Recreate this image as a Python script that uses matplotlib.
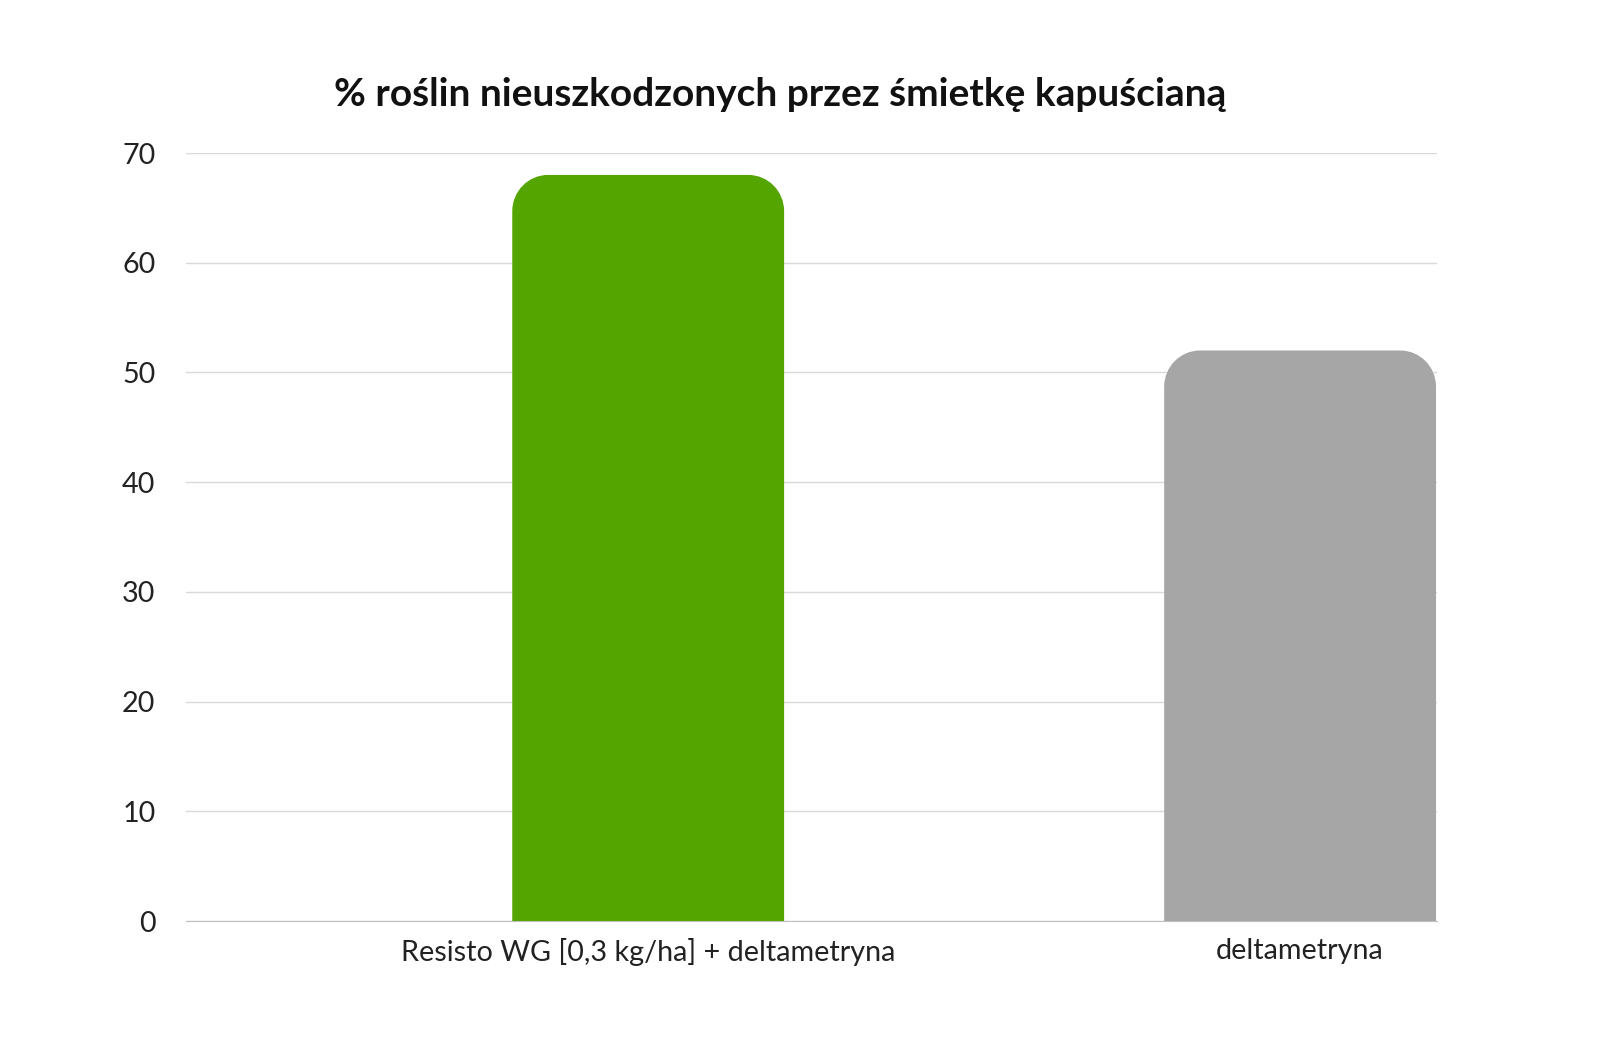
import matplotlib
matplotlib.use("Agg")
import matplotlib.pyplot as plt
from matplotlib.path import Path
from matplotlib.patches import PathPatch

categories = ["Resisto WG [0,3 kg/ha] + deltametryna", "deltametryna"]
values = [68, 52]
colors = ["#55a500", "#a6a6a6"]
yticks = [0, 10, 20, 30, 40, 50, 60, 70]
title = "% roślin nieuszkodzonych przez śmietkę kapuścianą"

plt.rcParams['font.family'] = ['Lato', 'DejaVu Sans']
fig = plt.figure(figsize=(16, 10.6), dpi=100)
ax = fig.add_axes([186/1600, 1-921/1060, (1437-186)/1600, (921-153)/1060])

xs = list(range(len(categories)))
bars = ax.bar(xs, values, width=0.417, color=colors)
ax.set_xlim(-0.709, 1.21)
ax.set_ylim(0, 70)

rx, ry = 0.055, 3.3
k = 0.5523
for b, c in zip(bars, colors):
    x0, w, h = b.get_x(), b.get_width(), b.get_height()
    b.set_visible(False)
    x1 = x0 + w
    verts = [(x0, 0), (x0, h - ry),
             (x0, h - ry + k*ry), (x0 + rx - k*rx, h), (x0 + rx, h),
             (x1 - rx, h),
             (x1 - rx + k*rx, h), (x1, h - ry + k*ry), (x1, h - ry),
             (x1, 0), (x0, 0)]
    codes = [Path.MOVETO, Path.LINETO,
             Path.CURVE4, Path.CURVE4, Path.CURVE4,
             Path.LINETO,
             Path.CURVE4, Path.CURVE4, Path.CURVE4,
             Path.LINETO, Path.CLOSEPOLY]
    ax.add_patch(PathPatch(Path(verts, codes), facecolor=c, edgecolor='none', zorder=3))

ax.set_yticks(yticks)
ax.set_xticks(xs)
ax.set_xticklabels(categories)
ax.tick_params(axis='both', length=0, labelsize=20.7, colors='#222222')
ax.tick_params(axis='y', pad=22)
ax.tick_params(axis='x', pad=12)
ax.grid(axis='y', color='#d9d9d9', linewidth=1, zorder=0)
ax.set_axisbelow(True)
for s in ['top', 'right', 'left']:
    ax.spines[s].set_visible(False)
ax.spines['bottom'].set_color('#bfbfbf')
fig.text(780/1600, 1-95/1060, title, ha='center', va='center', fontsize=28, fontweight='bold', color='#111111')
fig.savefig("out.png", dpi=100, facecolor='white')
